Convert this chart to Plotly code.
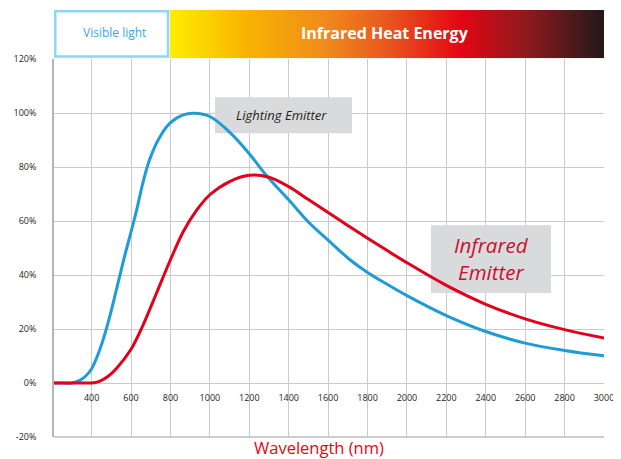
import plotly.graph_objects as go

# ---- data ----
lighting_nm = [209, 260, 300, 340, 370, 400, 442, 484, 527, 569, 600, 628, 661, 695, 746, 800,
               864, 920, 1000, 1100, 1200, 1286, 1400, 1505, 1600, 1711, 1800, 1900, 2000,
               2200, 2400, 2600, 2800, 3000]
lighting_pct = [0, 0, 0, 1.0, 2.6, 5.3, 12.5, 22.5, 35.0, 47.5, 56, 64, 74.5, 83, 91.2, 96.5,
                99.4, 100, 98.8, 93, 85, 77, 67.9, 59.3, 53, 45.7, 41.0, 36.6, 32.4,
                25.0, 19.1, 14.8, 12.1, 10.1]

infrared_nm = [209, 300, 380, 410, 442, 484, 527, 600, 661, 729, 800, 864, 932, 1000, 1100,
               1200, 1300, 1400, 1500, 1600, 1700, 1800, 1900, 2000, 2200, 2400, 2600, 2800, 3000]
infrared_pct = [0, 0, 0, 0.1, 0.7, 2.5, 5.5, 12.5, 21.5, 33.3, 45.7, 56, 64, 69.8, 74.7,
                77, 76.3, 72.8, 68.0, 63.2, 58.4, 53.7, 49.1, 44.6, 36.2, 29.2, 23.8, 19.8, 16.7]

y_ticks = [-20, 0, 20, 40, 60, 80, 100, 120]
y_labels = ["-20%", "0%", "20%", "40%", "60%", "80%", "100%", "120%"]
x_ticks = [400, 600, 800, 1000, 1200, 1400, 1600, 1800, 2000, 2200, 2400, 2600, 2800, 3000]

band_colors = [[0, "#FFED00"], [0.17, "#F8B500"], [0.36, "#F08A1B"], [0.51, "#E9531F"],
               [0.67, "#E30613"], [0.82, "#8E1A1E"], [1, "#231819"]]

BLUE = "#1E9CD7"
RED = "#E2001A"
FONT = "Open Sans"
MAIN_TOP = 0.8845

fig = go.Figure()

# top gradient band (on its own hidden axes)
fig.add_trace(go.Scatter(
    x=[0.2109, 1, 1, 0.2109, 0.2109], y=[0, 0, 1, 1, 0],
    xaxis="x2", yaxis="y2", mode="lines", line=dict(width=0),
    fill="toself", fillgradient=dict(type="horizontal", colorscale=band_colors),
    hoverinfo="skip", showlegend=False))

fig.add_trace(go.Scatter(x=lighting_nm, y=lighting_pct, mode="lines",
                         line=dict(color=BLUE, width=3, shape="spline", smoothing=1.0),
                         name="Lighting Emitter", showlegend=False))
fig.add_trace(go.Scatter(x=infrared_nm, y=infrared_pct, mode="lines",
                         line=dict(color=RED, width=3, shape="spline", smoothing=1.0),
                         name="Infrared Emitter", showlegend=False))

shapes = [
    # visible light box
    dict(type="rect", xref="x2", yref="y2", x0=0.0023, x1=0.2073, y0=0.037, y1=0.974,
         line=dict(color="#8DD6F5", width=2.5), fillcolor="white", layer="above"),
    # label boxes (above grid, below curves)
    dict(type="rect", xref="x", yref="y", x0=1026, x1=1721, y0=92.6, y1=105.9,
         line=dict(width=0), fillcolor="#D9DADB", layer="between"),
    dict(type="rect", xref="x", yref="y", x0=2122, x1=2731, y0=33.4, y1=58.5,
         line=dict(width=0), fillcolor="#D9DADB", layer="between"),
    # bottom border
    dict(type="line", xref="paper", yref="paper", x0=0, x1=1, y0=0, y1=0,
         line=dict(color="#BDBDBD", width=1.5), layer="above"),
]

annotations = [
    dict(text="Visible light", xref="x2", yref="y2", x=0.1091, y=0.53, showarrow=False,
         font=dict(family=FONT, size=12, color="#3BA7DF")),
    dict(text="<b>Infrared Heat Energy</b>", xref="x2", yref="y2", x=0.6016, y=0.52,
         showarrow=False, font=dict(family=FONT, size=16, color="white")),
    dict(text="<i>Lighting Emitter</i>", xref="x", yref="y", x=1364,
         y=99.3, showarrow=False, font=dict(family=FONT, size=13, color="#231F20")),
    dict(text="<i>Infrared<br>Emitter</i>", xref="x", yref="y", x=2430,
         y=46.2, showarrow=False, align="center",
         font=dict(family=FONT, size=20.5, color="#C8102E")),
    dict(text="Wavelength (nm)", xref="paper", yref="paper", x=0.481, y=-0.0235,
         yanchor="middle", showarrow=False, font=dict(family=FONT, size=16.5, color="#E30613")),
]

# the page body adds an 8px offset, so the figure is 8px smaller and margins shifted
fig.update_layout(
    width=613, height=451,
    margin=dict(l=46, r=17, t=2, b=22, autoexpand=False),
    paper_bgcolor="white", plot_bgcolor="white",
    showlegend=False,
    shapes=shapes, annotations=annotations,
    xaxis=dict(range=[209, 3000], tickvals=x_ticks, showgrid=True, gridcolor="#CACACA",
               gridwidth=1, zeroline=False, showline=False, anchor="free",
               position=MAIN_TOP * 20 / 140, ticks="outside", ticklen=6, automargin=False,
               tickcolor="rgba(0,0,0,0)", tickfont=dict(family=FONT, size=9, color="#231F20")),
    yaxis=dict(range=[-20, 120], tickvals=y_ticks, ticktext=y_labels, domain=[0, MAIN_TOP],
               showgrid=True, gridcolor="#CACACA", gridwidth=1, zeroline=False,
               showline=True, linecolor="#B5B5B5", linewidth=1.5, automargin=False,
               ticks="outside", ticklen=14, tickcolor="rgba(0,0,0,0)",
               tickfont=dict(family=FONT, size=9, color="#231F20")),
    xaxis2=dict(domain=[0, 1], range=[0, 1], visible=False, anchor="y2", fixedrange=True),
    yaxis2=dict(domain=[0.887, 1], range=[0, 1], visible=False, anchor="x2", fixedrange=True),
)

fig.write_html("out.html")
